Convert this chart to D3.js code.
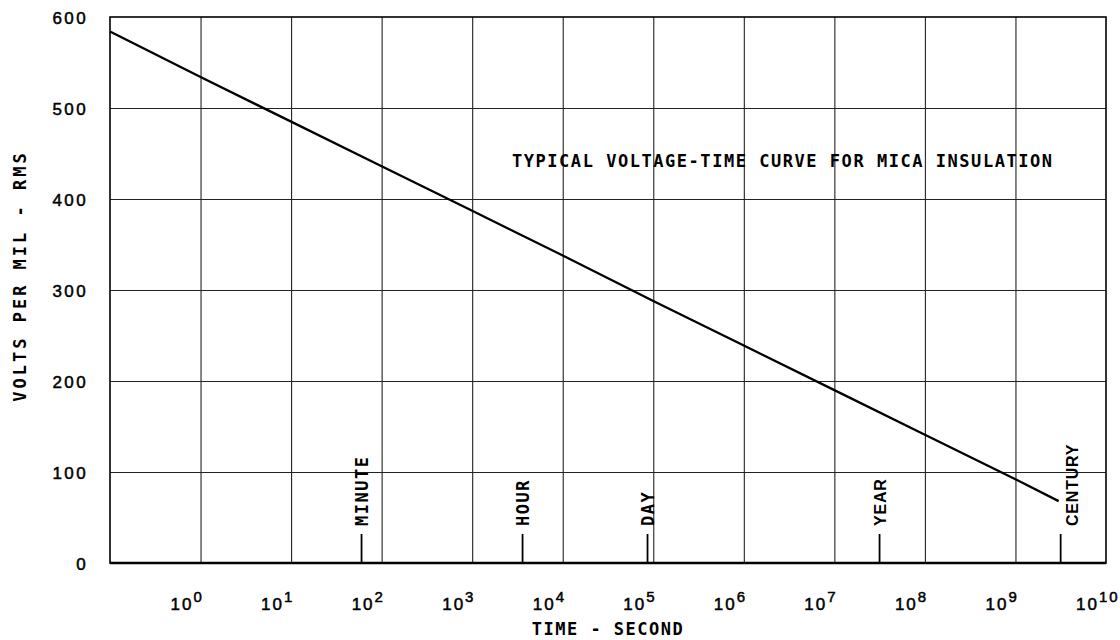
<!DOCTYPE html>
<html><head><meta charset="utf-8">
<script src="https://cdn.jsdelivr.net/npm/d3@7"></script>
<style>body{margin:0;background:#fff} svg{display:block;background:#fff}</style>
</head><body><svg id="c" width="1120" height="640"></svg>
<script>
// ---- data ----
const timeSeconds = [0.1, 1, 10, 100, 1e3, 1e4, 1e5, 1e6, 1e7, 1e8, 1e9, 3e9];
const voltsPerMil = [584, 534, 485, 436, 387, 338, 288, 239, 190, 141, 92, 68];
const xTickExponents = [0, 1, 2, 3, 4, 5, 6, 7, 8, 9, 10];
const yTicks = [0, 100, 200, 300, 400, 500, 600];
const eventNames = ["MINUTE", "HOUR", "DAY", "YEAR", "CENTURY"];
const eventSeconds = [60, 3600, 86400, 3.156e7, 3.156e9];
const titleText = "TYPICAL VOLTAGE-TIME CURVE FOR MICA INSULATION";
const xLabel = "TIME - SECOND";
const yLabel = "VOLTS PER MIL - RMS";

// ---- layout ----
const L = 110, R = 1106, T = 17, B = 563;
const svg = d3.select("#c");
const x = d3.scaleLog().domain([0.1, 1e10]).range([L, R]);
const y = d3.scaleLinear().domain([0, 600]).range([B, T]);
const mono = "'DejaVu Sans Mono', monospace";
const sans = "'Liberation Sans', Arial, sans-serif";

// vertical grid
const gx = svg.append("g").attr("transform", `translate(0,${B})`)
  .call(d3.axisBottom(x)
    .tickValues(xTickExponents.map(e => Math.pow(10, e)).filter(v => v < 1e10))
    .tickSize(-(B - T)).tickFormat(""));
gx.select(".domain").remove();
gx.selectAll(".tick line").attr("stroke", "#222").attr("stroke-width", 1.1);

// horizontal grid
const gy = svg.append("g").attr("transform", `translate(${L},0)`)
  .call(d3.axisLeft(y).tickValues(yTicks.filter(v => v > 0 && v < 600))
    .tickSize(-(R - L)).tickFormat(""));
gy.select(".domain").remove();
gy.selectAll(".tick line").attr("stroke", "#222").attr("stroke-width", 1.1);

// frame
svg.append("rect").attr("x", L).attr("y", T).attr("width", R - L).attr("height", B - T)
  .attr("fill", "none").attr("stroke", "#000").attr("stroke-width", 1.6);
svg.append("line").attr("x1", L).attr("x2", R).attr("y1", B).attr("y2", B)
  .attr("stroke", "#000").attr("stroke-width", 2.4);

// y tick labels
const yl = svg.append("g").attr("transform", `translate(${L},0)`)
  .call(d3.axisLeft(y).tickValues(yTicks).tickSize(0).tickPadding(22).tickFormat(d3.format("d")));
yl.select(".domain").remove();
yl.selectAll("text").attr("font-family", sans).attr("font-size", 17)
  .attr("letter-spacing", 2.4).attr("fill", "#000").attr("dy", "0.36em")
  .attr("stroke", "#000").attr("stroke-width", 0.5);

// x tick labels with superscripts
const xl = svg.append("g");
xTickExponents.forEach(e => {
  const t = xl.append("text").attr("x", x(Math.pow(10, e)) - 30).attr("y", 610)
    .attr("font-family", sans).attr("font-size", 17).attr("fill", "#000")
    .attr("stroke", "#000").attr("stroke-width", 0.5)
    .attr("letter-spacing", 2);
  t.append("tspan").text("10");
  t.append("tspan").attr("dy", -8).attr("font-size", 15).text(String(e));
});

// curve
const line = d3.line().x((d, i) => x(timeSeconds[i])).y(d => y(d));
svg.append("path").datum(voltsPerMil).attr("d", line)
  .attr("fill", "none").attr("stroke", "#000").attr("stroke-width", 2.3);

// event markers
eventNames.forEach((name, i) => {
  const px = x(eventSeconds[i]);
  svg.append("line").attr("x1", px).attr("x2", px).attr("y1", B - 29).attr("y2", B)
    .attr("stroke", "#000").attr("stroke-width", 1.8);
  const isLong = eventSeconds[i] > 1e6;
  const tx = px + (i === eventNames.length - 1 ? 11 : 0) + 6;
  const ty = B - 37;
  svg.append("text").attr("transform", `translate(${tx},${ty}) rotate(-90)`)
    .attr("font-family", isLong ? sans : mono)
    .attr("font-weight", "bold")
    .attr("font-size", isLong ? 16 : 17)
    .attr("letter-spacing", isLong ? 0.8 : 1.5)
    .attr("fill", "#000").text(name);
});

// title
svg.append("text").attr("x", 512).attr("y", 167)
  .attr("font-family", mono).attr("font-weight", "bold").attr("font-size", 17).attr("fill", "#000")
  .attr("textLength", 540).attr("lengthAdjust", "spacing").text(titleText);

// axis labels
svg.append("text").attr("x", (L + R) / 2).attr("y", 635).attr("text-anchor", "middle")
  .attr("font-family", mono).attr("font-weight", "bold").attr("font-size", 17).attr("fill", "#000")
  .attr("letter-spacing", 1.5).text(xLabel);
svg.append("text").attr("transform", `translate(26,276) rotate(-90)`).attr("text-anchor", "middle")
  .attr("font-family", mono).attr("font-weight", "bold").attr("font-size", 17).attr("fill", "#000")
  .attr("letter-spacing", 3).text(yLabel);
</script></body></html>
